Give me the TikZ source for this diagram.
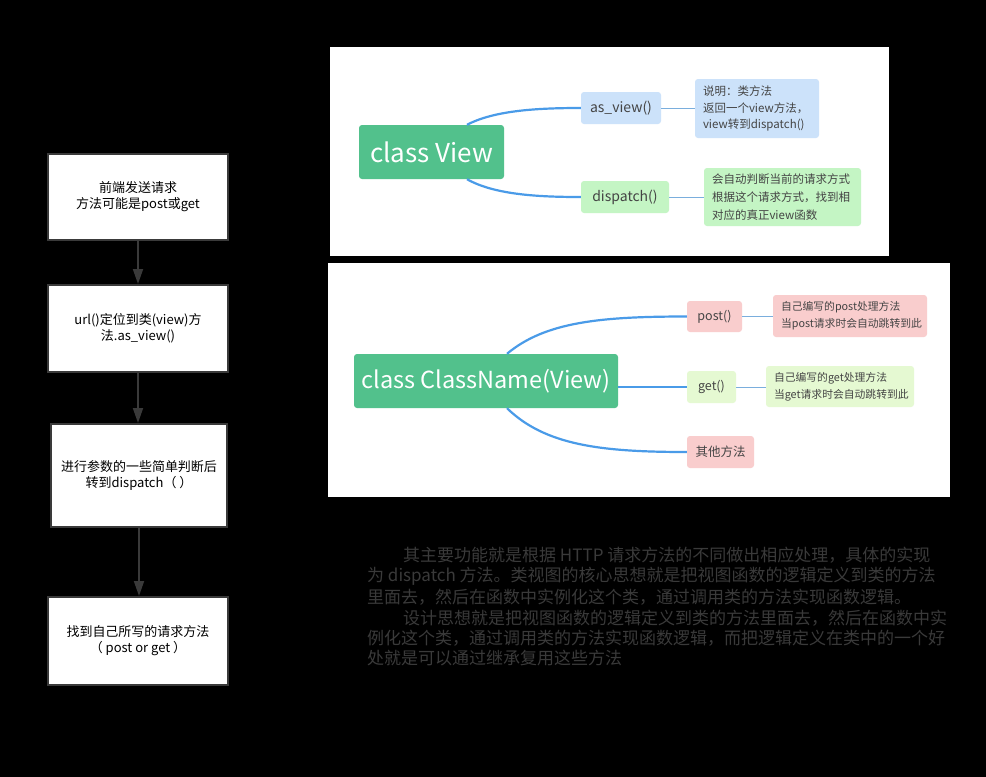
\documentclass[tikz,border=0pt]{standalone}
\usepackage{fontspec}
\setmainfont{Noto Sans CJK SC}
\usetikzlibrary{arrows.meta}
\definecolor{mgreen}{HTML}{52C18C}
\definecolor{lblue}{HTML}{CCE2FA}
\definecolor{lgreen}{HTML}{C4F5C4}
\definecolor{lpink}{HTML}{F9CDCD}
\definecolor{lyg}{HTML}{E5F9D2}
\definecolor{linkblue}{HTML}{4A9BE8}
\definecolor{thinblue}{HTML}{7AAEDD}
\definecolor{boxborder}{HTML}{3A3A3A}
\definecolor{paratext}{HTML}{3A3A3A}
\definecolor{nodetext}{HTML}{444444}
\newcommand{\fsz}[2]{\fontsize{#1}{#2}\selectfont}
\begin{document}
\begin{tikzpicture}[x=1pt,y=-1pt,
  flowbox/.style={draw=boxborder, line width=2pt, fill=white, align=center, text=black, font=\fsz{13}{16}},
  flowarrow/.style={draw=boxborder, line width=1.8pt, -{Triangle[width=10pt,length=15pt]}},
  rootnode/.style={fill=mgreen, rounded corners=3pt, text=white, inner sep=0pt},
  branch/.style={rounded corners=3pt, text=nodetext, inner sep=0pt, font=\fsz{14}{16}},
  note/.style={rounded corners=3pt, text=nodetext, inner xsep=8pt, inner ysep=0pt, align=left},
  mainlink/.style={draw=linkblue, line width=2.2pt},
  thinlink/.style={draw=thinblue, line width=1pt},
  para/.style={anchor=west, text=paratext, inner sep=0pt, font=\fsz{17}{20}}
]
\fill[black] (0,0) rectangle (986,777);
\useasboundingbox (0,0) rectangle (986,777);

% ---------- left flow ----------
\node[flowbox, minimum width=180pt, minimum height=86pt] (b1) at (138,197) {前端发送请求\\方法可能是post或get};
\node[flowbox, minimum width=180pt, minimum height=87pt] (b2) at (138,328.5) {url()定位到类(view)方\\法.as\_view()};
\node[flowbox, minimum width=176pt, minimum height=103pt] (b3) at (139,475.5) {进行参数的一些简单判断后\\转到dispatch（ ）};
\node[flowbox, minimum width=180pt, minimum height=88pt] (b4) at (138,641) {找到自己所写的请求方法\\（ post or get ）};
\draw[flowarrow] (b1.south) -- (b2.north);
\draw[flowarrow] (b2.south) -- (b3.north -| b2.south);
\draw[flowarrow] (b3.south) -- (b4.north -| b3.south);

% ---------- panel 1 ----------
\fill[white] (330,47) rectangle (889,256);
\node[rootnode, minimum width=145pt, minimum height=54pt, font=\fsz{26}{28}] (cv) at (431.5,152) {class View};
\node[branch, fill=lblue, minimum width=80pt, minimum height=32pt] (av) at (621,108) {as\_view()};
\node[note, fill=lblue, minimum height=59pt, text width=108pt, font=\fsz{11.5}{16.5}] (n1) at (757,108.5) {说明：类方法\\返回一个view方法，\\view转到dispatch()};
\node[branch, fill=lgreen, minimum width=88pt, minimum height=32pt] (dp) at (625,197) {dispatch()};
\node[note, fill=lgreen, minimum height=58pt, text width=141pt, font=\fsz{11.5}{18.3}] (n2) at (782.5,197) {会自动判断当前的请求方式\\根据这个请求方式，找到相\\对应的真正view函数};
\draw[mainlink] ([xshift=35.5pt]cv.north) .. controls (495,110) and (540,108) .. (av.west);
\draw[mainlink] ([xshift=35.5pt]cv.south) .. controls (495,195) and (540,197) .. (dp.west);
\draw[thinlink] (av.east) -- (n1.west |- av.east);
\draw[thinlink] (dp.east) -- (n2.west |- dp.east);

% ---------- panel 2 ----------
\fill[white] (328,263) rectangle (950,497);
\node[rootnode, minimum width=264pt, minimum height=54pt, font=\fsz{23.5}{26}] (cn) at (486,381) {class ClassName(View)};
\node[branch, fill=lpink, minimum width=55pt, minimum height=31pt, font=\fsz{12.5}{14}] (po) at (714.5,316.5) {post()};
\node[note, fill=lpink, minimum height=42pt, text width=138pt, font=\fsz{10.8}{16.7}] (pn) at (850,316) {自己编写的post处理方法\\当post请求时会自动跳转到此};
\node[branch, fill=lyg, minimum width=49pt, minimum height=32pt, font=\fsz{12.5}{14}] (ge) at (711.5,387) {get()};
\node[note, fill=lyg, minimum height=41pt, text width=132pt, font=\fsz{10.8}{16.7}] (gn) at (840,386.5) {自己编写的get处理方法\\当get请求时会自动跳转到此};
\node[branch, fill=lpink, minimum width=67pt, minimum height=32pt, font=\fsz{12.5}{14}] (ot) at (720.5,452) {其他方法};
\draw[mainlink] ([xshift=21pt]cn.north) .. controls (545,322) and (600,316.5) .. (po.west);
\draw[mainlink] (cn.east |- ge.west) -- (ge.west);
\draw[mainlink] ([xshift=21pt]cn.south) .. controls (545,445) and (600,452) .. (ot.west);
\draw[thinlink] (po.east) -- (pn.west |- po.east);
\draw[thinlink] (ge.east) -- (gn.west |- ge.east);

% ---------- paragraph ----------
\node[para] (p1) at (403,555) {其主要功能就是根据 HTTP 请求方法的不同做出相应处理，具体的实现};
\node[para] (p2) at (367,576.5) {为 dispatch 方法。类视图的核心思想就是把视图函数的逻辑定义到类的方法};
\node[para] (p3) at (367,597) {里面去，然后在函数中实例化这个类，通过调用类的方法实现函数逻辑。};
\node[para] (p4) at (403,618) {设计思想就是把视图函数的逻辑定义到类的方法里面去，然后在函数中实};
\node[para] (p5) at (367,638) {例化这个类，通过调用类的方法实现函数逻辑，而把逻辑定义在类中的一个好};
\node[para] (p6) at (367,658) {处就是可以通过继承复用这些方法};
\end{tikzpicture}
\end{document}
